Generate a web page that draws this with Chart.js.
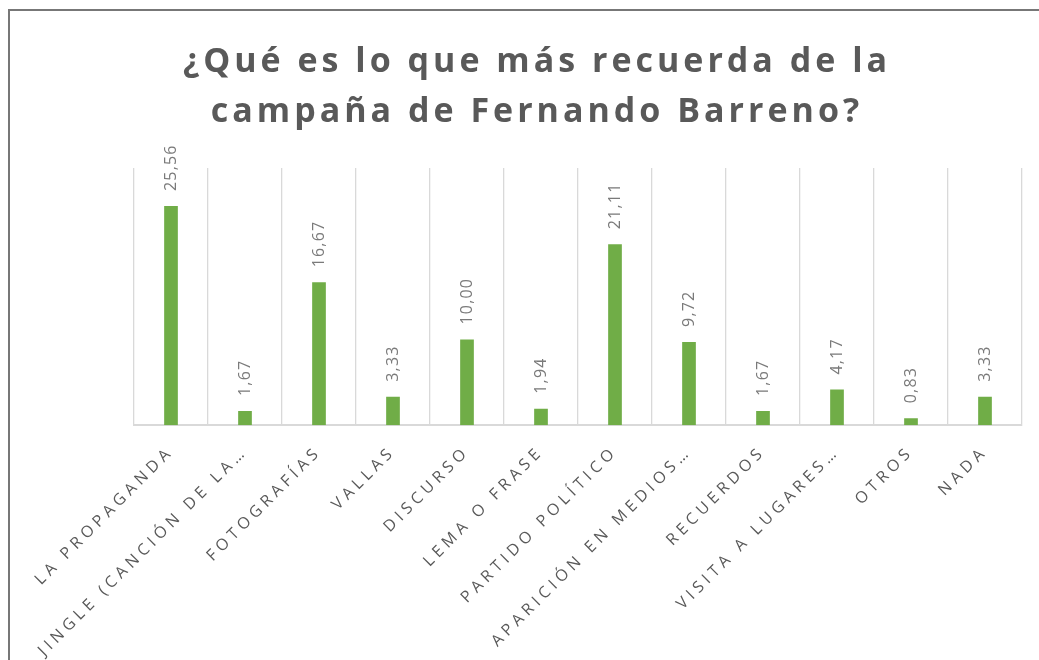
<!DOCTYPE html>
<html>
<head>
<meta charset="utf-8">
<script src="https://cdn.jsdelivr.net/npm/chart.js@4/dist/chart.umd.min.js"></script>
<style>
  html, body { margin: 0; padding: 0; background: #ffffff; overflow: hidden; }
  #wrap { position: absolute; left: 0; top: 0; width: 1039px; height: 660px; }
  #frame { position: absolute; left: 8px; top: 9px; width: 1100px; height: 700px;
           border-top: 2px solid #777777; border-left: 2px solid #777777; pointer-events: none; }
</style>
</head>
<body>
<div id="wrap"><canvas id="c"></canvas></div>
<div id="frame"></div>
<script>
const titleLines = ['¿Qué es lo que más recuerda de la', 'campaña de Fernando Barreno?'];
const categories = [
  'LA PROPAGANDA',
  'JINGLE (CANCIÓN DE LA…',
  'FOTOGRAFÍAS',
  'VALLAS',
  'DISCURSO',
  'LEMA O FRASE',
  'PARTIDO POLÍTICO',
  'APARICIÓN EN MEDIOS…',
  'RECUERDOS',
  'VISITA A LUGARES…',
  'OTROS',
  'NADA'
];
const values = [25.56, 1.67, 16.67, 3.33, 10.00, 1.94, 21.11, 9.72, 1.67, 4.17, 0.83, 3.33];
const valueLabels = ['25,56', '1,67', '16,67', '3,33', '10,00', '1,94', '21,11', '9,72', '1,67', '4,17', '0,83', '3,33'];

const TICK_SPACING = '4.5px';
const TITLE_SPACING = '4px';
const TITLE_CENTER_X = 537;

const spacingPlugin = {
  id: 'spacing',
  beforeLayout(chart) {
    chart.ctx.letterSpacing = TICK_SPACING;
    const tb = chart.titleBlock;
    if (tb && !tb._patched) {
      const orig = tb.draw;
      tb.draw = function (...args) {
        const ctx = this.ctx;
        ctx.save();
        ctx.letterSpacing = TITLE_SPACING;
        ctx.translate(TITLE_CENTER_X - (this.left + this.right) / 2, 0);
        orig.apply(this, args);
        ctx.restore();
      };
      tb._patched = true;
    }
  },
  beforeDraw(chart) {
    chart.ctx.letterSpacing = TICK_SPACING;
  }
};

const valueLabelPlugin = {
  id: 'valueLabels',
  afterDatasetsDraw(chart) {
    const ctx = chart.ctx;
    const meta = chart.getDatasetMeta(0);
    ctx.save();
    ctx.letterSpacing = '1.2px';
    ctx.font = '16px "Open Sans"';
    ctx.fillStyle = '#7a7a7a';
    ctx.textAlign = 'left';
    ctx.textBaseline = 'middle';
    meta.data.forEach((bar, i) => {
      ctx.save();
      ctx.translate(bar.x, bar.y - 15);
      ctx.rotate(-Math.PI / 2);
      ctx.fillText(valueLabels[i], 0, 0);
      ctx.restore();
    });
    ctx.restore();
  }
};

new Chart(document.getElementById('c'), {
  type: 'bar',
  data: {
    labels: categories,
    datasets: [{
      data: values,
      backgroundColor: '#70AD47',
      borderWidth: 0,
      barPercentage: 0.185,
      categoryPercentage: 1.0
    }]
  },
  options: {
    responsive: true,
    maintainAspectRatio: false,
    animation: false,
    devicePixelRatio: 1,
    layout: { padding: { left: 134, right: 17, top: 0, bottom: -17 } },
    plugins: {
      legend: { display: false },
      tooltip: { enabled: false },
      title: {
        display: true,
        text: titleLines,
        color: '#595959',
        font: { family: '"Open Sans"', size: 34, weight: 'bold', lineHeight: 1.47 },
        padding: { top: 37, bottom: 31 }
      }
    },
    scales: {
      x: {
        grid: { display: true, color: '#d9d9d9', lineWidth: 1.3, drawTicks: false, offset: true },
        border: { display: true, color: '#d9d9d9', width: 2 },
        ticks: {
          color: '#595959',
          font: { family: '"Open Sans"', size: 16 },
          minRotation: 45,
          maxRotation: 45,
          autoSkip: false,
          padding: 17
        }
      },
      y: {
        display: false,
        min: 0,
        max: 30
      }
    }
  },
  plugins: [spacingPlugin, valueLabelPlugin]
});
</script>
</body>
</html>
